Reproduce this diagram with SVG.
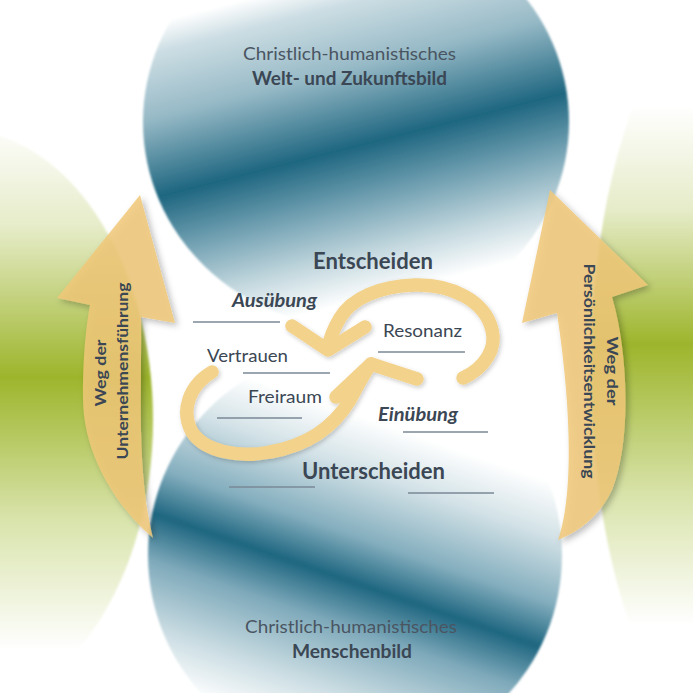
<svg xmlns="http://www.w3.org/2000/svg" width="693" height="693" viewBox="0 0 693 693">
<style>
  .lbl { font-family: Lato, "Open Sans", "DejaVu Sans", sans-serif; fill: #3b4754; }
  .reg { font-weight: 400; }
  .bold { font-weight: 700; }
  .bi { font-weight: 700; font-style: italic; }
  .sub { fill: #4a5562; }
  .rule { stroke: #7a8896; stroke-width: 1.3; fill: none; }
  .loop { fill: none; stroke: #F3D28C; stroke-width: 13.5; stroke-linecap: round; stroke-linejoin: round; }
  .big { fill: #F0C878; fill-opacity: 0.85; }
</style>
<defs>
  <linearGradient id="gTop" gradientUnits="userSpaceOnUse" x1="314" y1="-18" x2="393" y2="292">
    <stop offset="0" stop-color="#ffffff"/>
    <stop offset="0.09" stop-color="#cddee4"/>
    <stop offset="0.29" stop-color="#96b9c6"/>
    <stop offset="0.53" stop-color="#1e6680"/>
    <stop offset="0.69" stop-color="#6e9eb0"/>
    <stop offset="0.86" stop-color="#c2d7de"/>
    <stop offset="1" stop-color="#ffffff"/>
  </linearGradient>
  <linearGradient id="gBot" gradientUnits="userSpaceOnUse" x1="407" y1="432" x2="303" y2="734">
    <stop offset="0" stop-color="#ffffff"/>
    <stop offset="0.16" stop-color="#d3e2e7"/>
    <stop offset="0.36" stop-color="#84aebe"/>
    <stop offset="0.5" stop-color="#1e6680"/>
    <stop offset="0.64" stop-color="#7ea9ba"/>
    <stop offset="0.84" stop-color="#cbdde3"/>
    <stop offset="1" stop-color="#ffffff"/>
  </linearGradient>
  <linearGradient id="gGreenL" gradientUnits="userSpaceOnUse" x1="0" y1="120" x2="0" y2="650">
    <stop offset="0" stop-color="#ffffff"/>
    <stop offset="0.2" stop-color="#e6ecc9"/>
    <stop offset="0.485" stop-color="#9db52c"/>
    <stop offset="0.75" stop-color="#d8e3aa"/>
    <stop offset="1" stop-color="#ffffff"/>
  </linearGradient>
  <linearGradient id="gGreenR" gradientUnits="userSpaceOnUse" x1="0" y1="105" x2="0" y2="625">
    <stop offset="0" stop-color="#ffffff"/>
    <stop offset="0.2" stop-color="#e6ecc9"/>
    <stop offset="0.46" stop-color="#9db52c"/>
    <stop offset="0.75" stop-color="#d8e3aa"/>
    <stop offset="1" stop-color="#ffffff"/>
  </linearGradient>
  <filter id="soft" x="-5%" y="-5%" width="110%" height="110%">
    <feGaussianBlur stdDeviation="0.8"/>
  </filter>
  <filter id="shadow" x="-20%" y="-20%" width="140%" height="140%">
    <feDropShadow dx="3" dy="3" stdDeviation="3" flood-color="#000000" flood-opacity="0.3"/>
  </filter>
  <filter id="lshadow" x="-20%" y="-20%" width="140%" height="140%">
    <feDropShadow dx="1.5" dy="2" stdDeviation="2" flood-color="#000000" flood-opacity="0.2"/>
  </filter>
</defs>
<rect width="693" height="693" fill="#ffffff"/>

<g id="green-left"><ellipse cx="-40" cy="420" rx="193" ry="290" fill="url(#gGreenL)" filter="url(#soft)"/></g>
<g id="green-right"><ellipse cx="761" cy="370" rx="170" ry="400" fill="url(#gGreenR)" filter="url(#soft)"/></g>

<g id="weltbild">
  <ellipse cx="356" cy="122" rx="213" ry="205" fill="url(#gTop)" filter="url(#soft)"/>
  <text class="lbl reg sub" x="243" y="60" font-size="18" textLength="213" lengthAdjust="spacingAndGlyphs">Christlich-humanistisches</text>
  <text class="lbl bold" x="252" y="85" font-size="18" textLength="195" lengthAdjust="spacingAndGlyphs">Welt- und Zukunftsbild</text>
</g>
<g id="menschenbild">
  <circle cx="355" cy="555" r="207" fill="url(#gBot)" filter="url(#soft)"/>
  <text class="lbl reg sub" x="245" y="633" font-size="18" textLength="212" lengthAdjust="spacingAndGlyphs">Christlich-humanistisches</text>
  <text class="lbl bold" x="292" y="658" font-size="18" textLength="120" lengthAdjust="spacingAndGlyphs">Menschenbild</text>
</g>

<g id="weg-unternehmensfuehrung">
  <path class="big" filter="url(#shadow)" d="M153,538 C118,508 82,455 83,395 C83,350 87,322 90,305 L57,298 L140,195 L175,323 L141,317 C142,390 136,470 153,538 Z"/>
  <text class="lbl bold" transform="translate(106,373) rotate(-90)" text-anchor="middle" font-size="16" textLength="67" lengthAdjust="spacingAndGlyphs">Weg der</text>
  <text class="lbl bold" transform="translate(128,371) rotate(-90)" text-anchor="middle" font-size="16" textLength="177" lengthAdjust="spacingAndGlyphs">Unternehmensführung</text>
</g>
<g id="weg-persoenlichkeitsentwicklung">
  <path class="big" filter="url(#shadow)" d="M550,190 L648,285 L612,297 C628,350 632,440 612,490 C600,515 582,530 558,540 C572,500 573,420 557,313 L522,323 Z"/>
  <text class="lbl bold" transform="translate(607,371) rotate(90)" text-anchor="middle" font-size="16" textLength="69" lengthAdjust="spacingAndGlyphs">Weg der</text>
  <text class="lbl bold" transform="translate(584,371) rotate(90)" text-anchor="middle" font-size="16" textLength="215" lengthAdjust="spacingAndGlyphs">Persönlichkeitsentwicklung</text>
</g>

<g id="connectors" filter="url(#lshadow)">
  <path class="loop" d="M463,378 C485,368 497,348 492,330 C485,300 450,284 415,285 C380,286 352,298 340,318 C334,328 330,338 328,348"/>
  <polyline class="loop" points="292,326 328,350 365,327"/>
  <path class="loop" d="M212,372 C190,385 180,410 192,432 C205,452 240,458 270,452 C310,445 335,425 350,400 C358,385 364,373 371,364"/>
  <polyline class="loop" points="336,397 371,364 417,379"/>
</g>

<g id="labels">
  <g id="entscheiden"><text class="lbl bold" x="313" y="269" font-size="22" textLength="120" lengthAdjust="spacingAndGlyphs">Entscheiden</text></g>
  <g id="ausuebung"><text class="lbl bi" x="232" y="307" font-size="18" textLength="85" lengthAdjust="spacingAndGlyphs">Ausübung</text><line class="rule" x1="193" y1="322" x2="280" y2="322"/></g>
  <g id="resonanz"><text class="lbl reg" x="383" y="337" font-size="17" textLength="79" lengthAdjust="spacingAndGlyphs">Resonanz</text><line class="rule" x1="378" y1="352" x2="465" y2="352"/></g>
  <g id="vertrauen"><text class="lbl reg" x="207" y="362" font-size="17" textLength="81" lengthAdjust="spacingAndGlyphs">Vertrauen</text><line class="rule" x1="243" y1="373" x2="330" y2="373"/></g>
  <g id="freiraum"><text class="lbl reg" x="248" y="403" font-size="17" textLength="74" lengthAdjust="spacingAndGlyphs">Freiraum</text><line class="rule" x1="217" y1="418" x2="302" y2="418"/></g>
  <g id="einuebung"><text class="lbl bi" x="378" y="421" font-size="18" textLength="80" lengthAdjust="spacingAndGlyphs">Einübung</text><line class="rule" x1="403" y1="432" x2="488" y2="432"/></g>
  <g id="unterscheiden"><text class="lbl bold" x="302" y="479" font-size="22" textLength="143" lengthAdjust="spacingAndGlyphs">Unterscheiden</text><line class="rule" x1="229" y1="487" x2="315" y2="487"/><line class="rule" x1="408" y1="493" x2="494" y2="493"/></g>
</g>
</svg>
